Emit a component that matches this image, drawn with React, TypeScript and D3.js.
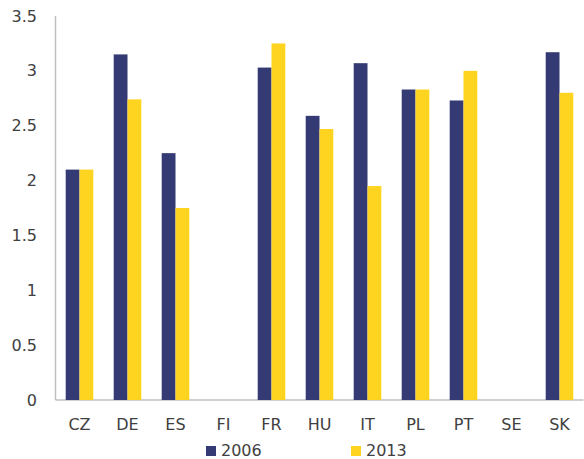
import React from "react";
import * as d3 from "d3";

const categories = ["CZ", "DE", "ES", "FI", "FR", "HU", "IT", "PL", "PT", "SE", "SK"];
const values2006: (number | null)[] = [2.1, 3.15, 2.25, null, 3.03, 2.59, 3.07, 2.83, 2.73, null, 3.17];
const values2013: (number | null)[] = [2.1, 2.74, 1.75, null, 3.25, 2.47, 1.95, 2.83, 3.0, null, 2.8];
const seriesNames = ["2006", "2013"];
const yTicks = [0, 0.5, 1, 1.5, 2, 2.5, 3, 3.5];

const W = 584, H = 459;
const left = 55.5, right = 583.5, top = 16, bottom = 400;
const colors = ["#343A73", "#FFD420"];
const font = "'DejaVu Sans', sans-serif";
const textColor = "#404040";

export default function App() {
  const x = d3.scaleBand<string>().domain(categories).range([left, right]).paddingInner(0).paddingOuter(0);
  const y = d3.scaleLinear().domain([0, 3.5]).range([bottom, top]);
  const barW = 13.8;
  const series = [values2006, values2013];
  return (
    <svg width={W} height={H} style={{ position: "absolute", left: 0, top: 0, background: "#fff" }}>
      <line x1={left} x2={left} y1={top} y2={bottom} stroke="#BFBFBF" strokeWidth={1.5} />
      <line x1={left} x2={right} y1={bottom} y2={bottom} stroke="#BFBFBF" strokeWidth={1.5} />
      {yTicks.map((t) => (
        <text key={t} x={37} y={y(t)} dy="0.35em" textAnchor="end" fontFamily={font} fontSize={16} fill={textColor}>
          {t}
        </text>
      ))}
      {categories.map((c, i) => {
        const cx = (x(c) as number) + x.bandwidth() / 2;
        return (
          <g key={c}>
            {series.map((s, j) => {
              const v = s[i];
              if (v == null) return null;
              return (
                <rect key={j} x={cx - barW + j * barW} y={y(v)} width={barW} height={bottom - y(v)} fill={colors[j]} />
              );
            })}
            <text x={cx} y={424} dy="0.35em" textAnchor="middle" fontFamily={font} fontSize={16} fill={textColor}>
              {c}
            </text>
          </g>
        );
      })}
      {seriesNames.map((n, j) => {
        const lx = j === 0 ? 206 : 351;
        return (
          <g key={n}>
            <rect x={lx} y={446} width={10} height={10} fill={colors[j]} />
            <text x={lx + 15} y={450} dy="0.35em" fontFamily={font} fontSize={16} fill={textColor}>
              {n}
            </text>
          </g>
        );
      })}
    </svg>
  );
}
